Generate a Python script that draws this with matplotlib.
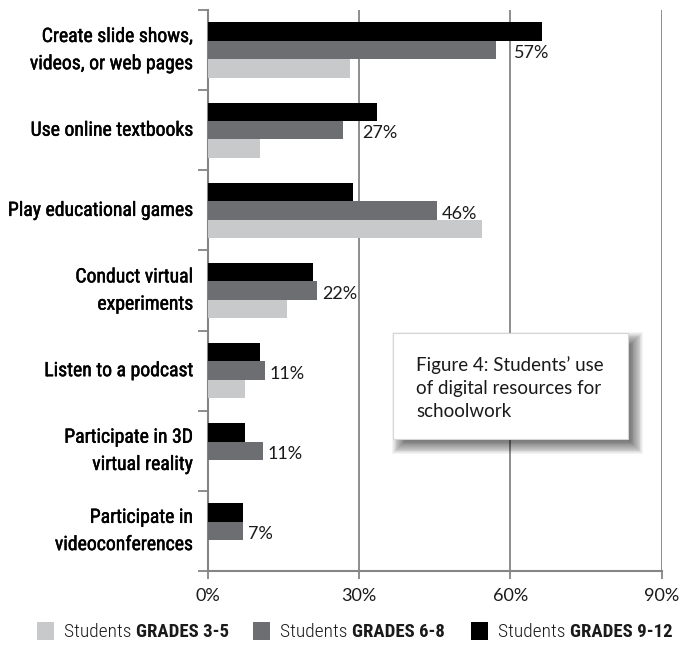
import numpy as np
import matplotlib
matplotlib.use("Agg")
import matplotlib.pyplot as plt
from matplotlib import font_manager as fm
from matplotlib.patches import Rectangle
from matplotlib.transforms import ScaledTranslation
import matplotlib.patheffects as pe

# ---------------- data ----------------
categories = [
    "Create slide shows,\nvideos, or web pages",
    "Use online textbooks",
    "Play educational games",
    "Conduct virtual\nexperiments",
    "Listen to a podcast",
    "Participate in 3D\nvirtual reality",
    "Participate in\nvideoconferences",
]
grades_3_5 = [28.2, 10.3, 54.3, 15.7, 7.4, 0.0, 0.0]
grades_6_8 = [57.2, 26.8, 45.5, 21.7, 11.3, 10.9, 7.0]
grades_9_12 = [66.3, 33.6, 28.8, 20.9, 10.3, 7.4, 7.0]
labels_6_8 = ["57%", "27%", "46%", "22%", "11%", "11%", "7%"]
x_ticks = [0, 30, 60, 90]
x_ticklabels = ["0%", "30%", "60%", "90%"]
series_names = ["GRADES 3-5", "GRADES 6-8", "GRADES 9-12"]
title_text = "Figure 4: Students\u2019 use\nof digital resources for\nschoolwork"

# ---------------- fonts ----------------
avail = {f.name for f in fm.fontManager.ttflist}
def pick(*names):
    return next((n for n in names if n in avail), "DejaVu Sans")
COND = pick("Liberation Sans Narrow", "Roboto Condensed", "Open Sans Condensed", "DejaVu Sans")
COND_STRETCH = "condensed" if COND == "DejaVu Sans" else "normal"
LIGHT = pick("Lato", "Open Sans", "Roboto", "DejaVu Sans")

C_LIGHT = "#c8c9ca"
C_MID = "#6d6e71"
C_DARK = "#000000"
C_AXIS = "#858585"
C_TEXT = "#1a1a1a"

W, H = 686, 647
fig = plt.figure(figsize=(W / 100, H / 100), dpi=100)
fig.patch.set_facecolor("white")

def fx(px):
    return px / W
def fy(py):
    return 1 - py / H

ax = fig.add_axes([fx(208), fy(571), fx(661.7) - fx(208), fy(10) - fy(571)])

y = np.arange(len(categories))
bh = 0.23
ax.barh(y - bh, grades_9_12, height=bh, color=C_DARK, zorder=3)
ax.barh(y, grades_6_8, height=bh, color=C_MID, zorder=3)
ax.barh(y + bh, grades_3_5, height=bh, color=C_LIGHT, zorder=3)

ax.set_xlim(0, 90)
ax.set_ylim(len(categories) - 0.5, -0.5)

ax.set_xticks(x_ticks)
ax.set_xticklabels(x_ticklabels, fontsize=13, fontfamily=LIGHT, fontweight="normal", color=C_TEXT)
ax.xaxis.grid(True, color=C_AXIS, lw=1.3, zorder=0)
ax.set_axisbelow(True)
ax.tick_params(axis="x", length=6, width=1.3, color=C_AXIS, pad=6)

ax.set_yticks(np.arange(-0.5, len(categories) + 0.5, 1))
ax.set_yticklabels([])
ax.tick_params(axis="y", which="major", length=7, width=1.3, color=C_AXIS)

# category labels drawn as text so line spacing can be controlled
lab_trans = ax.get_yaxis_transform() + ScaledTranslation(-15 / 100, 0, fig.dpi_scale_trans)
for yi, cat in zip(y, categories):
    ax.text(0, yi, cat, transform=lab_trans, ha="right", va="center",
            multialignment="right", fontsize=14.2, fontfamily=COND,
            fontstretch=COND_STRETCH, fontweight="normal", color="#000000",
            linespacing=1.55, clip_on=False,
            path_effects=[pe.withStroke(linewidth=0.35, foreground="#000000")])

for s in ["top", "right"]:
    ax.spines[s].set_visible(False)
for s in ["left", "bottom"]:
    ax.spines[s].set_color(C_AXIS)
    ax.spines[s].set_linewidth(1.5)

# data labels for grades 6-8
for yi, v, lab in zip(y, grades_6_8, labels_6_8):
    xpos = v + 0.9
    for g in x_ticks[1:]:
        if v < g < v + 8:
            xpos = g + 0.6
    ax.text(xpos, yi + 0.04, lab, va="center", ha="left", fontsize=13,
            fontfamily=LIGHT, color=C_TEXT, zorder=4)

# ---------------- text box with soft shadow ----------------
bx0, by0, bx1, by1 = 393, 333, 628, 439
off = 7
n = 16
for k in range(n):
    spread = 8 - k * (14 / n)
    fig.patches.append(Rectangle((fx(bx0 + off - spread), fy(by1 + off + spread)),
                                 (bx1 - bx0 + 2 * spread) / W, (by1 - by0 + 2 * spread) / H,
                                 transform=fig.transFigure, facecolor="black",
                                 edgecolor="none", alpha=0.045, zorder=5))
fig.patches.append(Rectangle((fx(bx0), fy(by1)), (bx1 - bx0) / W, (by1 - by0) / H,
                             transform=fig.transFigure, facecolor="white",
                             edgecolor="#d6d6d6", lw=0.8, zorder=6))
fig.text(fx(416), fy(388), title_text, ha="left", va="center", fontsize=13.5,
         fontfamily=LIGHT, fontweight="normal", color=C_TEXT, linespacing=1.45, zorder=7)

# ---------------- legend ----------------
sw_x = [37, 253, 471]
colors = [C_LIGHT, C_MID, C_DARK]
for sx, c, name in zip(sw_x, colors, series_names):
    fig.patches.append(Rectangle((fx(sx), fy(640)), 17 / W, 18 / H,
                                 transform=fig.transFigure, facecolor=c,
                                 edgecolor="none", zorder=5))
    t1 = fig.text(fx(sx + 27), fy(632), "Students ", ha="left", va="center",
                  fontsize=14, fontfamily=COND, fontstretch=COND_STRETCH,
                  fontweight="light", color=C_TEXT)
    ax.annotate(name, xy=(1, 0.5), xycoords=t1, ha="left", va="center",
                fontsize=13.5, fontfamily=COND, fontstretch=COND_STRETCH,
                fontweight="bold", color=C_TEXT, annotation_clip=False)

fig.savefig("out.png", dpi=100, facecolor="white")
